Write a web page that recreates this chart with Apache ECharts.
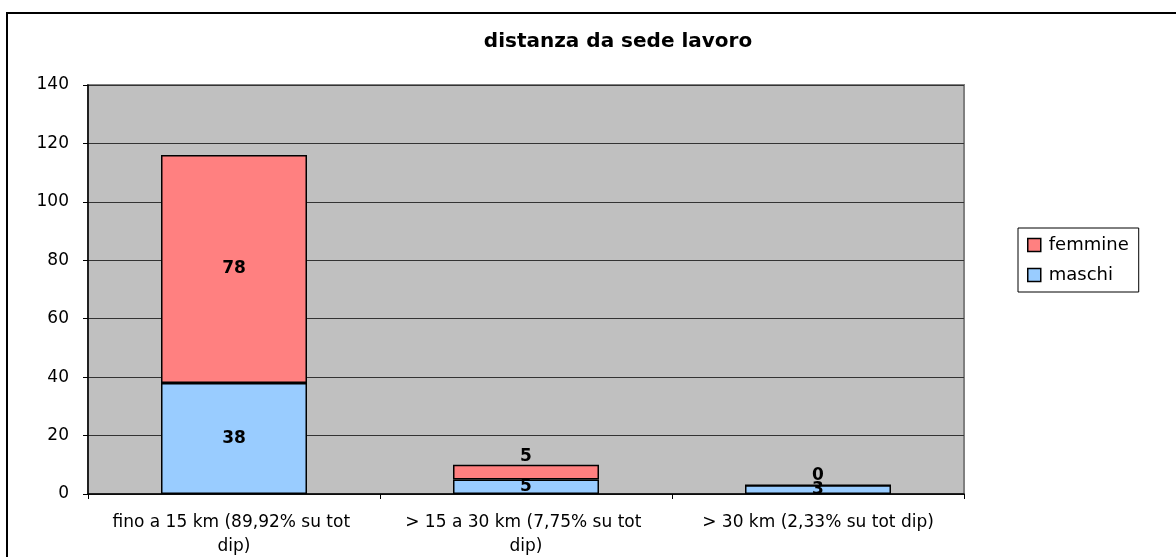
<!DOCTYPE html>
<html>
<head>
<meta charset="utf-8">
<script src="https://cdn.jsdelivr.net/npm/echarts@6/dist/echarts.min.js"></script>
<style>
  html, body { margin: 0; padding: 0; background: #fff; }
  #chart { width: 1176px; height: 557px; }
</style>
</head>
<body>
<div id="chart"></div>
<script>
// data
var categories = ['fino a 15 km (89,92% su tot dip)', '> 15 a 30 km (7,75% su tot dip)', '> 30 km (2,33% su tot dip)'];
var maschi = [38, 5, 3];
var femmine = [78, 5, 0];
var yTicks = [0, 20, 40, 60, 80, 100, 120, 140];

var font = 'DejaVu Sans, sans-serif';

var myChart = echarts.init(document.getElementById('chart'));

// small bars: Excel pushes the femmine label above the bar
var femData = femmine.map(function (v, i) {
  var d = { value: v };
  if (i > 0) d.label = { position: 'top', distance: 0 };
  return d;
});

var option = {
  animation: false,
  title: {
    text: 'distanza da sede lavoro',
    left: 613, top: 27, textAlign: 'center',
    textStyle: { fontFamily: font, fontSize: 20, fontWeight: 'bold', color: '#000' }
  },
  legend: {
    orient: 'vertical',
    left: 1018, top: 228,
    padding: [8, 10, 8, 9],
    itemGap: 12,
    itemWidth: 13, itemHeight: 13,
    borderColor: '#000', borderWidth: 1,
    icon: 'rect',
    data: ['femmine', 'maschi'],
    itemStyle: { borderColor: '#000', borderWidth: 1.5 },
    textStyle: { fontFamily: font, fontSize: 18, color: '#000', padding: [0, 0, 0, 3] }
  },
  graphic: [{
    type: 'rect',
    shape: { x: 7, y: 13, width: 1300, height: 700 },
    style: { fill: 'none', stroke: '#000', lineWidth: 2 },
    silent: true, z: -10
  }],
  grid: {
    left: 88, top: 85, width: 876, height: 409,
    outerBoundsMode: 'none',
    show: true, backgroundColor: '#C0C0C0',
    borderColor: '#808080', borderWidth: 2
  },
  xAxis: {
    type: 'category',
    data: categories,
    axisLine: { lineStyle: { color: '#000', width: 1.5 } },
    axisTick: { show: true, length: 5, lineStyle: { color: '#000' } },
    axisLabel: {
      interval: 0,
      fontFamily: font, fontSize: 17, color: '#000', margin: 17,
      width: 250, overflow: 'break', lineHeight: 24
    }
  },
  yAxis: {
    type: 'value',
    min: yTicks[0], max: yTicks[yTicks.length - 1], interval: 20,
    axisLine: { show: true, lineStyle: { color: '#000', width: 1.5 } },
    axisTick: { show: true, length: 5, lineStyle: { color: '#000' } },
    splitLine: { lineStyle: { color: '#333', width: 1 } },
    axisLabel: { fontFamily: font, fontSize: 17, color: '#000', margin: 19 }
  },
  series: [{
    name: 'maschi',
    type: 'bar',
    stack: 'tot',
    barWidth: '50%',
    data: maschi,
    itemStyle: { color: '#99CCFF', borderColor: '#000', borderWidth: 1.5 },
    label: {
      show: true, position: 'inside',
      fontFamily: font, fontSize: 17, fontWeight: 'bold', color: '#000'
    }
  }, {
    name: 'femmine',
    type: 'bar',
    stack: 'tot',
    barWidth: '50%',
    data: femData,
    itemStyle: { color: '#FF8080', borderColor: '#000', borderWidth: 1.5 },
    label: {
      show: true, position: 'inside',
      fontFamily: font, fontSize: 17, fontWeight: 'bold', color: '#000'
    }
  }]
};

myChart.setOption(option);
</script>
</body>
</html>
